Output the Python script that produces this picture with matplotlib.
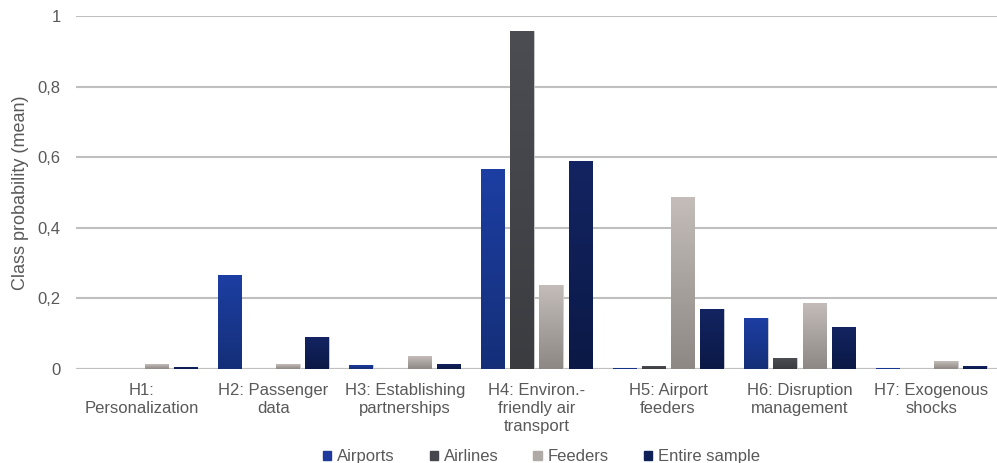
import numpy as np
import matplotlib
matplotlib.use("Agg")
import matplotlib.pyplot as plt
from matplotlib.colors import LinearSegmentedColormap

plt.rcParams['font.family'] = ['Liberation Sans', 'DejaVu Sans']

categories = ["H1:\nPersonalization", "H2: Passenger\ndata", "H3: Establishing\npartnerships",
              "H4: Environ.-\nfriendly air\ntransport", "H5: Airport\nfeeders",
              "H6: Disruption\nmanagement", "H7: Exogenous\nshocks"]
series_names = ["Airports", "Airlines", "Feeders", "Entire sample"]
airports = [0.0, 0.266, 0.012, 0.567, 0.003, 0.144, 0.002]
airlines = [0.0, 0.0, 0.0, 0.958, 0.008, 0.031, 0.0]
feeders = [0.013, 0.013, 0.036, 0.238, 0.487, 0.187, 0.022]
entire = [0.005, 0.090, 0.015, 0.589, 0.170, 0.120, 0.008]
yticks = [0, 0.2, 0.4, 0.6, 0.8, 1.0]
ytick_labels = ["0", "0,2", "0,4", "0,6", "0,8", "1"]

series = [airports, airlines, feeders, entire]
# (top colour, bottom colour)
grads = [("#1d3ea3", "#142f78"), ("#4b4d53", "#3b3c40"),
         ("#c4bdba", "#8d8884"), ("#132462", "#0b1946")]
legend_colors = ["#1d3a9c", "#45474c", "#b0aaa7", "#0f1f58"]

fig = plt.figure(figsize=(9.97, 4.63), dpi=100)
ax = fig.add_axes([0.0762, 0.203, 0.9238, 0.7624])

x = np.arange(len(categories))
stride = 0.222
width = 0.178
text_color = "#595959"

for i, (vals, (ctop, cbot)) in enumerate(zip(series, grads)):
    offs = (i - 1.5) * stride
    bars = ax.bar(x + offs, vals, width, color=legend_colors[i],
                  edgecolor="#d0d0d4", linewidth=0.6, zorder=3,
                  label=series_names[i])
    cmap = LinearSegmentedColormap.from_list("g%d" % i, [cbot, ctop])
    grad = np.linspace(0, 1, 256).reshape(-1, 1)
    for b, v in zip(bars, vals):
        if v <= 0:
            continue
        x0 = b.get_x()
        im = ax.imshow(grad, cmap=cmap, origin="lower", aspect="auto",
                       extent=[x0, x0 + b.get_width(), 0, v], zorder=3.5,
                       interpolation="bicubic")
        im.set_clip_path(b)

ax.set_xlim(-0.5, len(categories) - 0.5)
ax.set_ylim(0, 1.0)
ax.set_yticks(yticks)
ax.set_yticklabels(ytick_labels, color=text_color, fontsize=12)
ax.set_xticks(x)
ax.set_xticklabels(categories, color=text_color, fontsize=12, linespacing=1.25)
ax.tick_params(axis="both", length=0, pad=10)
ax.tick_params(axis="y", pad=11)
ax.yaxis.grid(True, color="#bfbfbf", linewidth=1.5, zorder=0)
ax.set_axisbelow(True)
for s in ax.spines.values():
    s.set_visible(False)
ax.axhline(0, color="#bfbfbf", linewidth=1.5, zorder=2)
ax.set_ylabel("Class probability (mean)", color=text_color, fontsize=13, labelpad=6)

handles = [plt.Rectangle((0, 0), 1, 1, color=c) for c in legend_colors]
fig.legend(handles, series_names, loc="lower center", bbox_to_anchor=(0.543, -0.035),
           ncol=4, frameon=False, fontsize=12, handlelength=0.5, handleheight=0.5,
           handletextpad=0.35, columnspacing=2.1, labelcolor=text_color)

fig.savefig("out.png", dpi=100)
